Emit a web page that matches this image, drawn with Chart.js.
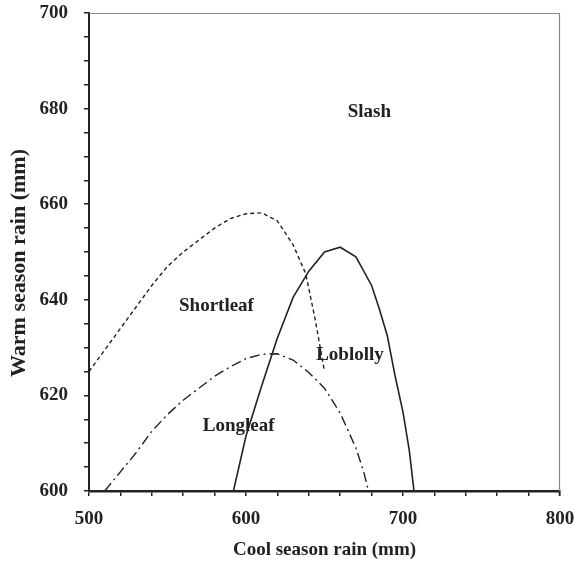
<!DOCTYPE html>
<html>
<head>
<meta charset="utf-8">
<script src="https://cdn.jsdelivr.net/npm/chart.js@4.4.1/dist/chart.umd.min.js"></script>
<style>
  html,body{margin:0;padding:0;background:#fff;}
  #wrap{width:574px;height:561px;}
</style>
</head>
<body>
<div id="wrap"><canvas id="c" width="574" height="561"></canvas></div>
<script>
// Data (cool season rain x, warm season rain y)
const shortleafX = [500, 510, 520, 530, 540, 550, 560, 570, 580, 590, 600, 610, 620, 630, 638, 644, 650];
const shortleafY = [625, 629.5, 634, 638.5, 643, 647, 650, 652.5, 655, 657, 658, 658.2, 656.5, 651.5, 645.5, 636, 625];

const loblollyX = [592, 600, 610, 620, 630, 640, 650, 660, 670, 680, 685, 690, 695, 700, 704, 707];
const loblollyY = [600, 611.5, 622, 632, 640.5, 646, 650, 651, 649, 643, 638, 632.5, 624, 616.5, 608.5, 600];

const longleafX = [510, 520, 530, 540, 550, 560, 570, 580, 590, 600, 610, 620, 630, 640, 650, 660, 670, 675, 678];
const longleafY = [600, 604, 608, 612.5, 616, 619, 621.5, 624, 626, 627.7, 628.6, 628.7, 627.4, 624.8, 621.5, 616.3, 609, 604, 600];

const regionNames = ["Slash", "Shortleaf", "Loblolly", "Longleaf"];
const regionX = [678.6, 581.2, 666.2, 595.3];
const regionY = [679.3, 638.6, 628.5, 613.5];

const xTickLabels = [500, 600, 700, 800];
const yTickLabels = [600, 620, 640, 660, 680, 700];

const xTitle = 'Cool season rain (mm)';
const yTitle = 'Warm season rain (mm)';

const zip = (xs, ys) => xs.map((x, i) => ({x: x, y: ys[i]}));

const FONT = "'Liberation Serif', 'Times New Roman', serif";
const INK = '#222222';

const regionLabels = {
  id: 'regionLabels',
  afterDatasetsDraw(chart) {
    const ctx = chart.ctx;
    const xs = chart.scales.x, ys = chart.scales.y;
    ctx.save();
    ctx.font = "bold 19px " + FONT;
    ctx.fillStyle = INK;
    ctx.textAlign = 'center';
    ctx.textBaseline = 'middle';
    regionNames.forEach((t, i) => {
      ctx.fillText(t, xs.getPixelForValue(regionX[i]), ys.getPixelForValue(regionY[i]));
    });
    ctx.restore();
  }
};

const frame = {
  id: 'frame',
  afterDraw(chart) {
    const a = chart.chartArea, ctx = chart.ctx;
    ctx.save();
    ctx.strokeStyle = '#8a8a8a';
    ctx.lineWidth = 1.2;
    ctx.beginPath();
    ctx.moveTo(a.left, a.top + 0.5);
    ctx.lineTo(a.right - 0.5, a.top + 0.5);
    ctx.lineTo(a.right - 0.5, a.bottom);
    ctx.stroke();
    ctx.strokeStyle = INK;
    ctx.lineWidth = 1.5;
    ctx.beginPath();
    ctx.moveTo(a.right - 0.5, a.bottom);
    ctx.lineTo(a.right - 0.5, a.bottom + 5);
    ctx.stroke();
    // y axis title
    ctx.fillStyle = INK;
    ctx.font = "bold 22px " + FONT;
    ctx.textAlign = 'center';
    ctx.textBaseline = 'middle';
    ctx.translate(19, 263);
    ctx.rotate(-Math.PI / 2);
    ctx.fillText(yTitle, 0, 0);
    ctx.restore();
  }
};

new Chart(document.getElementById('c'), {
  type: 'scatter',
  data: {
    datasets: [
      { label: 'Shortleaf', data: zip(shortleafX, shortleafY), showLine: true, borderColor: INK,
        borderWidth: 1.4, borderDash: [4, 3], pointRadius: 0, fill: false, tension: 0 },
      { label: 'Loblolly', data: zip(loblollyX, loblollyY), showLine: true, borderColor: INK,
        borderWidth: 1.6, pointRadius: 0, fill: false, tension: 0 },
      { label: 'Longleaf', data: zip(longleafX, longleafY), showLine: true, borderColor: INK,
        borderWidth: 1.4, borderDash: [10, 4, 2, 4], pointRadius: 0, fill: false, tension: 0 }
    ]
  },
  options: {
    responsive: false,
    animation: false,
    layout: { padding: { top: 13, right: 14, left: 0, bottom: 0 } },
    plugins: { legend: { display: false }, tooltip: { enabled: false } },
    scales: {
      x: {
        type: 'linear', min: 500, max: 800,
        afterFit(s) { s.height = 70; s.paddingLeft = 0; s.paddingRight = 0; },
        border: { display: true, color: INK, width: 2.5 },
        grid: { display: true, drawOnChartArea: false, drawTicks: true, tickLength: 5, color: INK, lineWidth: 1.5 },
        ticks: {
          stepSize: 20, padding: 12, color: INK,
          font: { family: FONT, size: 19, weight: 'bold' },
          maxRotation: 0, autoSkip: false,
          callback: (v) => xTickLabels.includes(v) ? String(v) : ''
        },
        title: { display: true, text: xTitle, color: INK,
          font: { family: FONT, size: 19, weight: 'bold' }, padding: { top: 3, bottom: 0 } }
      },
      y: {
        type: 'linear', min: 600, max: 700,
        afterFit(s) { s.width = 89; s.paddingTop = 0; s.paddingBottom = 0; },
        border: { display: true, color: INK, width: 2 },
        grid: { display: true, drawOnChartArea: false, drawTicks: true, tickLength: 5, color: INK, lineWidth: 1.5 },
        ticks: {
          stepSize: 5, padding: 16, color: INK,
          font: { family: FONT, size: 19, weight: 'bold' },
          autoSkip: false,
          callback: (v) => yTickLabels.includes(v) ? String(v) : ''
        },
        title: { display: false }
      }
    }
  },
  plugins: [regionLabels, frame]
});
</script>
</body>
</html>
